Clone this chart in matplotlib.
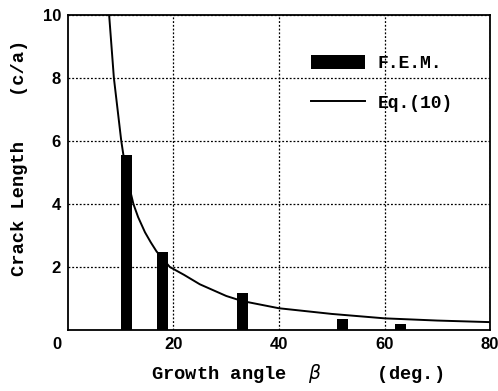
import matplotlib
matplotlib.use('Agg')
import matplotlib.pyplot as plt
import numpy as np

# F.E.M. results (bars)
fem_angle = [11.1, 18.0, 33.0, 52.0, 63.0]
fem_cracklen = [5.54, 2.49, 1.17, 0.34, 0.18]

# Eq.(10) curve
eq_angle = [7.8, 8.7, 9.4, 10.1, 10.6, 11.4, 12.4, 13.3, 14.6, 15.7, 16.8,
            19.3, 22.0, 25.0, 30.0, 33.0, 40.0, 50.0, 60.0, 70.0, 80.0]
eq_cracklen = [10.0, 8.0, 7.0, 6.0, 5.45, 4.7, 4.0, 3.58, 3.1, 2.78, 2.49,
               2.0, 1.75, 1.45, 1.08, 0.92, 0.69, 0.51, 0.37, 0.30, 0.25]

xticks = [20, 40, 60, 80]
yticks = [2, 4, 6, 8, 10]

mono = ['Liberation Mono', 'DejaVu Sans Mono']
label_font = {'family': mono, 'size': 13.5, 'weight': 'bold'}
tick_font = ['Liberation Sans Narrow', 'Liberation Sans', 'DejaVu Sans']

fig = plt.figure(figsize=(4.98, 3.91), dpi=100)
ax = fig.add_axes([0.1365, 0.156, 0.8475, 0.806])

bars = ax.bar(fem_angle, fem_cracklen, width=2.1, color='black', zorder=3)
line, = ax.plot(eq_angle, eq_cracklen, color='black', lw=1.4, zorder=4)

ax.set_xlim(0, 80)
ax.set_ylim(0, 10)
ax.set_xticks(xticks)
ax.set_yticks(yticks)
ax.tick_params(length=0, pad=5, labelsize=12)
for lab in ax.get_xticklabels() + ax.get_yticklabels():
    lab.set_family(tick_font)
    lab.set_fontweight('bold')
ax.text(-0.015, -0.045, '0', transform=ax.transAxes, ha='right', va='center',
        fontsize=12, fontweight='bold', family=tick_font)

ax.grid(True, color='black', linestyle=(0, (1.5, 1.5)), linewidth=0.9)
for s in ax.spines.values():
    s.set_linewidth(1.3)
    s.set_color('black')

ax.set_xlabel(r'Growth angle  $\beta$     (deg.)', fontdict=label_font)
ax.xaxis.set_label_coords(0.543, -0.1)
ax.set_ylabel('Crack Length    (c/a)', fontdict=label_font)
ax.yaxis.set_label_coords(-0.095, 0.546)

ax.legend([bars, line], ['F.E.M.', 'Eq.(10)'], loc='upper left',
          bbox_to_anchor=(0.576, 0.873), frameon=False, borderpad=0,
          borderaxespad=0, handlelength=3.0, handletextpad=0.7,
          handleheight=0.8, labelspacing=1.25,
          prop={'family': mono, 'size': 13, 'weight': 'bold'})

fig.savefig('out.png', dpi=100)
